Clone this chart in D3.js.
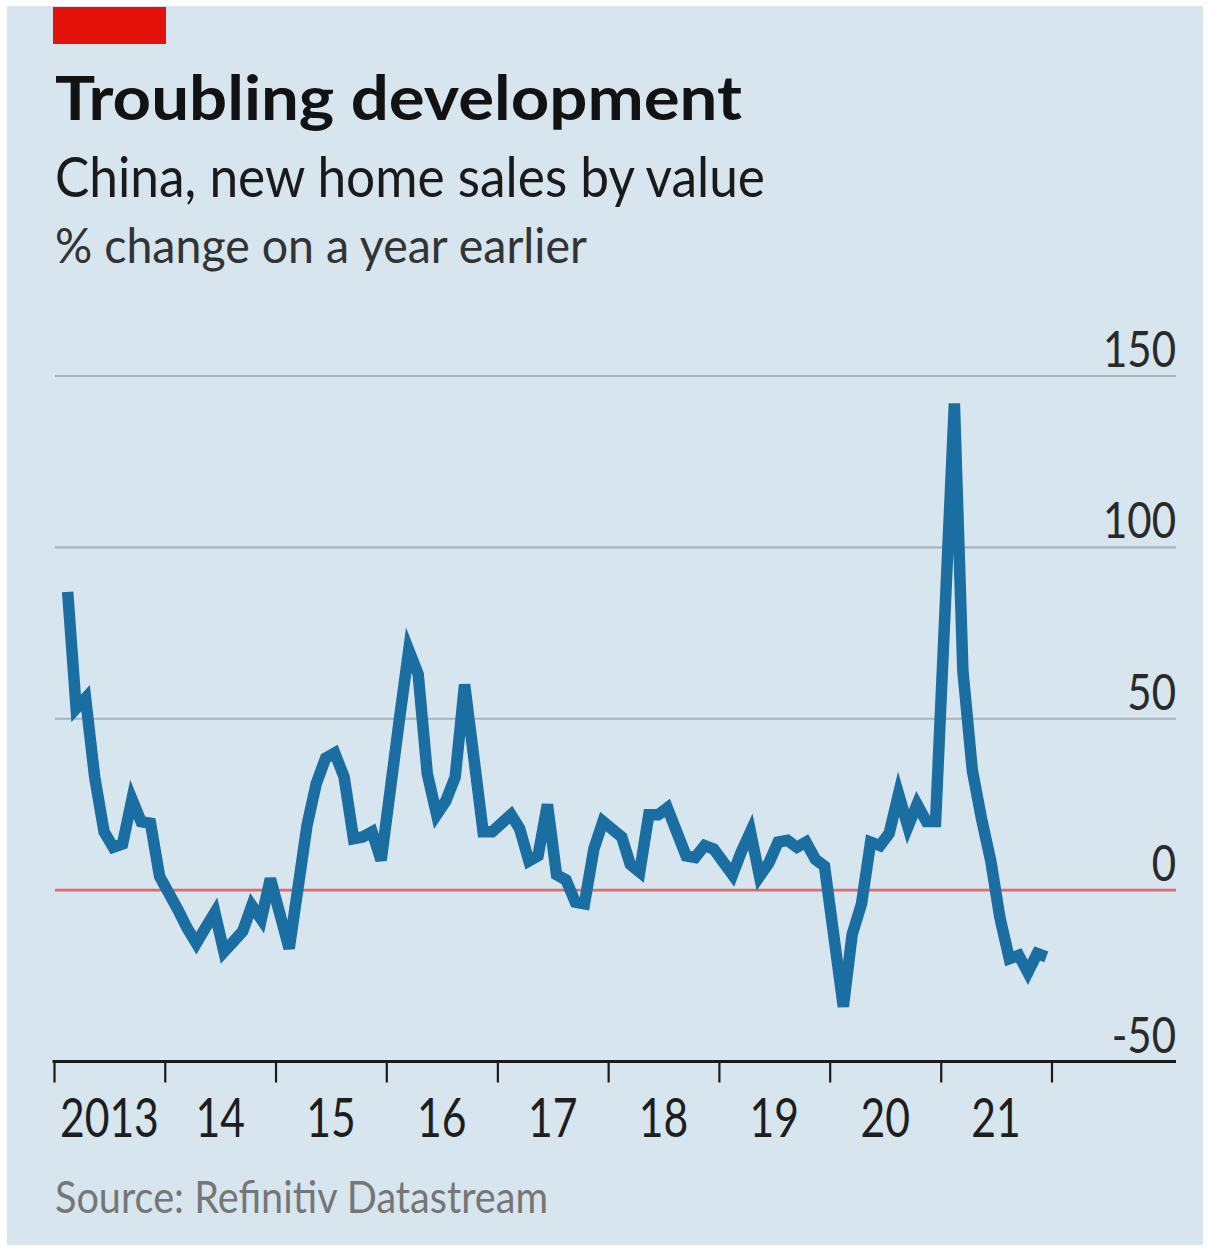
<!DOCTYPE html>
<html><head><meta charset="utf-8">
<script src="https://cdn.jsdelivr.net/npm/d3@7"></script>
<style>html,body{margin:0;padding:0;background:#fff;} svg{display:block;}</style>
</head><body>
<svg id="c" width="1209" height="1251"></svg>
<script>
// ---- data (monthly, % change on a year earlier; Jan figures combined into Feb) ----
const months = [
 "2013-02","2013-03","2013-04","2013-05","2013-06","2013-07","2013-08","2013-09","2013-10","2013-11","2013-12",
 "2014-02","2014-03","2014-04","2014-05","2014-06","2014-07","2014-08","2014-09","2014-10","2014-11","2014-12",
 "2015-02","2015-03","2015-04","2015-05","2015-06","2015-07","2015-08","2015-09","2015-10","2015-11","2015-12",
 "2016-02","2016-03","2016-04","2016-05","2016-06","2016-07","2016-08","2016-09","2016-10","2016-11","2016-12",
 "2017-02","2017-03","2017-04","2017-05","2017-06","2017-07","2017-08","2017-09","2017-10","2017-11","2017-12",
 "2018-02","2018-03","2018-04","2018-05","2018-06","2018-07","2018-08","2018-09","2018-10","2018-11","2018-12",
 "2019-02","2019-03","2019-04","2019-05","2019-06","2019-07","2019-08","2019-09","2019-10","2019-11","2019-12",
 "2020-02","2020-03","2020-04","2020-05","2020-06","2020-07","2020-08","2020-09","2020-10","2020-11","2020-12",
 "2021-02","2021-03","2021-04","2021-05","2021-06","2021-07","2021-08","2021-09","2021-10","2021-11","2021-12"
];
const values = [
 87, 53, 56, 33, 17, 12.5, 13.5, 26.5, 20, 19.5, 4,
 -6, -11, -15.5, -11, -6.5, -18, -15, -12, -4.5, -8.5, 3.3,
 -17, 0, 19, 31, 38.5, 40, 33, 15, 15.5, 17, 8.7,
 51, 70, 63, 34, 22, 26, 33, 60, 39, 17, 17,
 22, 18, 8.5, 10, 25, 4.5, 3, -3.5, -4, 12, 20,
 15.5, 7.5, 5.3, 22, 22, 24, 17, 10, 9.5, 13, 12,
 4.5, 11, 17, 4, 8, 14, 14.5, 12.5, 14, 9, 7,
 -34, -13, -4, 14, 13, 16.5, 28, 18.5, 25, 20, 20,
 142, 64, 35, 21, 8.5, -8, -20, -19, -24, -18.5, -19.5
];
const yTicks = [-50, 0, 50, 100, 150];
const yearTicks = ["2013","2014","2015","2016","2017","2018","2019","2020","2021","2022"];
const yearLabels = ["2013","14","15","16","17","18","19","20","21"];

const titleText = "Troubling development";
const subtitleText = "China, new home sales by value";
const unitText = "% change on a year earlier";
const sourceText = "Source: Refinitiv Datastream";

// ---- layout ----
const W = 1209, H = 1251;
const plotLeft = 54, plotRight = 1176;
const svg = d3.select("#c");
const FONT = "Lato, 'Open Sans', sans-serif";

svg.append("rect").attr("x",0).attr("y",0).attr("width",W).attr("height",H).attr("fill","#fff");
svg.append("rect").attr("x",7).attr("y",6).attr("width",W-13).attr("height",H-12).attr("fill","#d6e5ee");
svg.append("rect").attr("x",53).attr("y",7).attr("width",113).attr("height",37).attr("fill","#e3120b");

function fitText(sel, target){
  sel.attr("textLength", target).attr("lengthAdjust","spacingAndGlyphs");
}
function condense(sel, f){
  sel.each(function(){
    const w = this.getComputedTextLength();
    d3.select(this).attr("textLength", w*f).attr("lengthAdjust","spacingAndGlyphs");
  });
}

svg.append("text").text(titleText).attr("x",55).attr("y",120)
  .attr("font-family",FONT).attr("font-weight",700).attr("font-size",62).attr("fill","#121212")
  .call(fitText, 687);
svg.append("text").text(subtitleText).attr("x",55).attr("y",197)
  .attr("font-family",FONT).attr("font-size",56).attr("fill","#1a1a1a")
  .call(fitText, 710);
svg.append("text").text(unitText).attr("x",55).attr("y",263)
  .attr("font-family",FONT).attr("font-size",49).attr("fill","#333")
  .call(fitText, 532);
svg.append("text").text(sourceText).attr("x",55).attr("y",1213)
  .attr("font-family",FONT).attr("font-size",45).attr("fill","#767676")
  .call(fitText, 493);

// ---- scales ----
const parseM = d3.timeParse("%Y-%m");
const parseY = d3.timeParse("%Y");
const data = months.map((m,i)=>({date: d3.timeDay.offset(parseM(m), 14), value: values[i]}));
const x = d3.scaleTime().domain([parseY("2013"), parseY("2022")]).range([54, 1051.5]);
const y = d3.scaleLinear().domain([-50,150]).range([1061.5, 376]);

// gridlines
const grid = svg.append("g");
grid.selectAll("line").data(yTicks.filter(v=>v!==-50 && v!==0)).join("line")
  .attr("x1",plotLeft+1).attr("x2",plotRight).attr("y1",d=>y(d)).attr("y2",d=>y(d))
  .attr("stroke","#a7b4bc").attr("stroke-width",2.2);

// y labels
svg.append("g").selectAll("text").data(yTicks).join("text")
  .text(d=>d).attr("x",plotRight).attr("y",d=>y(d)-9).attr("text-anchor","end")
  .attr("font-family",FONT).attr("font-size",50).attr("fill","#2a2a2a")
  .call(condense, 0.84);

// x axis
const xAxis = d3.axisBottom(x)
  .tickValues(yearTicks.map(parseY)).tickSize(21).tickSizeOuter(0).tickFormat("");
const gx = svg.append("g").attr("transform",`translate(0,${y(-50)})`).call(xAxis);
gx.select(".domain").remove();
gx.selectAll(".tick line").attr("stroke","#1a1a1a").attr("stroke-width",2.2);
svg.append("line").attr("x1",x(parseY("2013"))-1.5).attr("x2",plotRight)
  .attr("y1",y(-50)).attr("y2",y(-50)).attr("stroke","#1a1a1a").attr("stroke-width",2.8);

// x labels centred in each year
svg.append("g").selectAll("text").data(yearLabels).join("text")
  .text(d=>d)
  .attr("x",(d,i)=>{const a=x(parseY(yearTicks[i])), b=x(parseY(yearTicks[i+1])); return (a+b)/2;})
  .attr("y",1137).attr("text-anchor","middle")
  .attr("font-family",FONT).attr("font-size",54).attr("fill","#1e1e1e")
  .call(condense, 0.79);

// zero line
svg.append("line").attr("x1",plotLeft+1).attr("x2",plotRight).attr("y1",y(0)).attr("y2",y(0))
  .attr("stroke","#e06a6c").attr("stroke-width",2.8);

// series line
const line = d3.line().x(d=>x(d.date)).y(d=>y(d.value));
svg.append("path").datum(data).attr("d",line)
  .attr("fill","none").attr("stroke","#1a6ea2").attr("stroke-width",11.5)
  .attr("stroke-linejoin","miter").attr("stroke-miterlimit",4);
</script>
</body></html>
